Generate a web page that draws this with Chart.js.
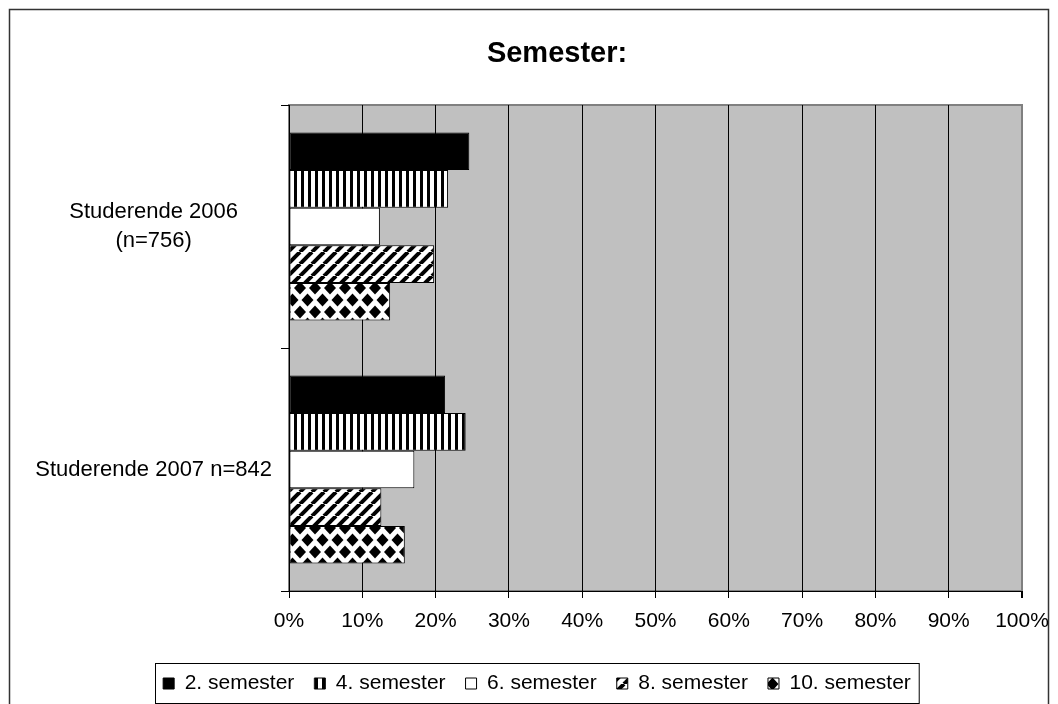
<!DOCTYPE html>
<html>
<head>
<meta charset="utf-8">
<script src="https://cdn.jsdelivr.net/npm/chart.js@4.4.0/dist/chart.umd.min.js"></script>
<style>
  html, body { margin: 0; padding: 0; background: #fff; }
</style>
</head>
<body>
<canvas id="grafico" width="1058" height="704"></canvas>
<script>
// datos (porcentajes)
const categorias = [['Studerende 2006', '(n=756)'], 'Studerende 2007 n=842'];
const semestre2 = [24.6, 21.3];
const semestre4 = [21.7, 24.1];
const semestre6 = [12.4, 17.1];
const semestre8 = [19.8, 12.6];
const semestre10 = [13.8, 15.8];
const etiquetas = ['2. semester', '4. semester', '6. semester', '8. semester', '10. semester'];
const ticksX = ['0%', '10%', '20%', '30%', '40%', '50%', '60%', '70%', '80%', '90%', '100%'];

const divGrafico = document.getElementById('grafico');
const ctxGrafico = divGrafico.getContext('2d');

// rellenos tipo Excel
function patron(w, h, dibujar) {
  const c = document.createElement('canvas');
  c.width = w;
  c.height = h;
  const ctx = c.getContext('2d');
  ctx.fillStyle = '#fff';
  ctx.fillRect(0, 0, w, h);
  ctx.fillStyle = '#000';
  ctx.strokeStyle = '#000';
  dibujar(ctx, w, h);
  return ctxGrafico.createPattern(c, 'repeat');
}

const rayas = patron(7, 7, (ctx) => {
  ctx.fillRect(0, 0, 3, 7);
});

const diagonal = patron(12, 12, (ctx, w, h) => {
  ctx.lineWidth = 4;
  for (const d of [-w, 0, w]) {
    ctx.beginPath();
    ctx.moveTo(d, h);
    ctx.lineTo(d + w, 0);
    ctx.stroke();
  }
});

const rombos = patron(15, 24, (ctx) => {
  const rombo = (x, y) => {
    ctx.beginPath();
    ctx.moveTo(x - 6, y);
    ctx.lineTo(x, y - 6.5);
    ctx.lineTo(x + 6, y);
    ctx.lineTo(x, y + 6.5);
    ctx.closePath();
    ctx.fill();
  };
  [[0, 0], [15, 0], [0, 24], [15, 24], [7.5, 12]].forEach(p => rombo(p[0], p[1]));
});

const rellenos = ['#000', rayas, '#fff', diagonal, rombos];
const series = [semestre2, semestre4, semestre6, semestre8, semestre10];

const fondo = {
  id: 'fondo',
  afterLayout(chart) {
    // Excel centra titulo y leyenda algo mas a la derecha
    chart.titleBlock.left = 92;
    chart.legend.left = 52;
  },
  beforeDraw(chart) {
    const { ctx, chartArea: a } = chart;
    ctx.save();
    ctx.fillStyle = '#fff';
    ctx.fillRect(0, 0, chart.width, chart.height);
    ctx.strokeStyle = '#333';
    ctx.lineWidth = 1.5;
    ctx.strokeRect(9.5, 9.5, chart.width - 19, chart.height + 20);
    ctx.fillStyle = '#c0c0c0';
    ctx.fillRect(a.left, a.top, a.right - a.left, a.bottom - a.top);
    ctx.strokeStyle = '#808080';
    ctx.lineWidth = 2;
    ctx.strokeRect(a.left, a.top, a.right - a.left, a.bottom - a.top);
    ctx.restore();
  },
  afterDraw(chart) {
    // marco de la leyenda
    const cajas = chart.legend.legendHitBoxes;
    if (!cajas || !cajas.length) return;
    const ult = cajas[cajas.length - 1];
    const izq = cajas[0].left - 8;
    const der = ult.left + ult.width + 8;
    const arriba = cajas[0].top - 10;
    const ctx = chart.ctx;
    ctx.save();
    ctx.strokeStyle = '#000';
    ctx.lineWidth = 1;
    ctx.strokeRect(Math.round(izq) + 0.5, Math.round(arriba) + 0.5, der - izq, 40);
    ctx.restore();
  }
};

Chart.defaults.font.family = "'Liberation Sans', Arial, sans-serif";
Chart.defaults.color = '#000';

new Chart(divGrafico, {
  type: 'bar',
  data: {
    labels: categorias,
    datasets: series.map((valores, i) => ({
      label: etiquetas[i],
      data: valores,
      backgroundColor: rellenos[i],
      borderColor: '#000',
      borderWidth: 1,
      borderSkipped: false,
      barPercentage: 1,
      categoryPercentage: 0.774
    }))
  },
  options: {
    indexAxis: 'y',
    responsive: false,
    animation: false,
    devicePixelRatio: 1,
    layout: { padding: { left: 0, right: 36, top: 0, bottom: 0 } },
    plugins: {
      title: {
        display: true,
        text: 'Semester:',
        font: { size: 29, weight: 'bold' },
        color: '#000',
        padding: { top: 37, bottom: 33.2 }
      },
      legend: {
        position: 'bottom',
        labels: {
          font: { size: 21 },
          boxWidth: 11,
          boxHeight: 11,
          padding: 20,
          color: '#000'
        }
      },
      tooltip: { enabled: false }
    },
    scales: {
      x: {
        min: 0,
        max: 100,
        afterFit: (scale) => {
          scale.height = 62;
          scale.paddingLeft = 0;
          scale.paddingRight = 0;
        },
        ticks: {
          stepSize: 10,
          font: { size: 21 },
          padding: 11,
          maxRotation: 0,
          callback: (v, i) => ticksX[i]
        },
        grid: {
          color: (c) => c.tick && c.tick.value === 100 ? '#808080' : '#000',
          lineWidth: (c) => c.tick && c.tick.value === 100 ? 2 : 1,
          tickColor: '#000',
          tickLength: 7
        },
        border: { color: '#000', width: 1 }
      },
      y: {
        afterFit: (scale) => { scale.width = 289; },
        ticks: {
          font: { size: 22, lineHeight: 1.3 },
          crossAlign: 'center',
          padding: 9
        },
        grid: {
          offset: true,
          drawOnChartArea: false,
          color: '#000',
          tickLength: 8
        },
        border: { color: '#000', width: 1 }
      }
    }
  },
  plugins: [fondo]
});
</script>
</body>
</html>
